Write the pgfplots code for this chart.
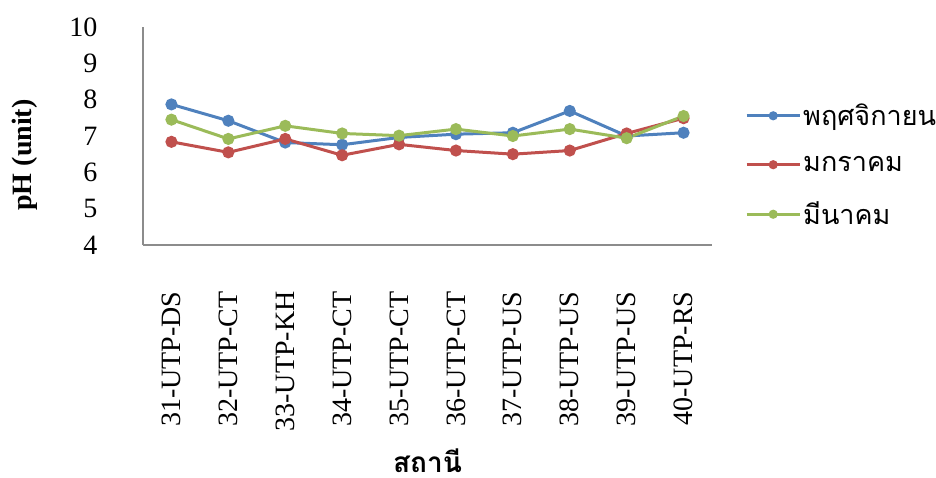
\documentclass[border=0pt]{standalone}
\usepackage{pgfplots}
\pgfplotsset{compat=1.18}
\usepackage{fontspec}
\setmainfont{Liberation Serif}
\newfontfamily\thaifont[Script=Thai]{Loma}
\definecolor{sBlue}{HTML}{4F81BD}
\definecolor{sRed}{HTML}{C0504D}
\definecolor{sGreen}{HTML}{9BBB59}
\definecolor{axGray}{HTML}{8C8C8C}

\begin{document}
\begin{tikzpicture}[x=1pt,y=1pt]
\useasboundingbox (-143,-232) rectangle (793,245);
\begin{axis}[
  at={(0,0)}, anchor=south west,
  scale only axis, width=569pt, height=218pt,
  xmin=-0.5, xmax=9.5, ymin=4, ymax=10,
  axis lines*=left,
  axis line style={axGray, line width=1.5pt},
  xtick={0,...,9},
  xticklabels={31-UTP-DS,32-UTP-CT,33-UTP-KH,34-UTP-CT,35-UTP-CT,36-UTP-CT,37-UTP-US,38-UTP-US,39-UTP-US,40-UTP-RS},
  ytick={4,...,10},
  major tick length=0pt,
  /pgf/number format/assume math mode=true,
  tick label style={font=\fontsize{28}{30}\selectfont},
  x tick label style={rotate=90, anchor=east, xshift=-43pt},
  y tick label style={anchor=east, xshift=-42pt},
  xlabel={\thaifont\bfseries\fontsize{28}{30}\selectfont สถานี},
  ylabel={\bfseries\fontsize{28}{30}\selectfont pH (unit)},
  every axis x label/.style={at={(axis description cs:0.5,0)}, yshift=-227pt, anchor=base, inner sep=0pt, text depth=0pt},
  every axis y label/.style={at={(axis description cs:0,0.5)}, xshift=-118pt, yshift=-19pt, rotate=90, anchor=center},
  clip=false,
  every axis plot/.append style={line width=3pt, mark=*, mark size=4.5pt},
  legend style={draw=none, fill=none, at={(axis description cs:1,1)}, anchor=north west,
    xshift=30pt, yshift=-73pt, row sep=25pt,
    font=\thaifont\fontsize{27}{29}\selectfont, cells={anchor=west}},
  legend image code/.code={\draw[#1, mark=none] (0pt,0pt) -- (53pt,0pt);
    \draw[#1, mark size=3pt] plot coordinates {(26.5pt,0pt)};},
]
\addplot[sBlue, mark options={fill=sBlue, draw=sBlue}] coordinates {
  (0,7.87) (1,7.42) (2,6.82) (3,6.76) (4,6.96) (5,7.05) (6,7.09) (7,7.69) (8,7.00) (9,7.09)};
\addlegendentry{พฤศจิกายน}
\addplot[sRed, mark options={fill=sRed, draw=sRed}] coordinates {
  (0,6.84) (1,6.55) (2,6.92) (3,6.47) (4,6.77) (5,6.60) (6,6.50) (7,6.60) (8,7.07) (9,7.49)};
\addlegendentry{มกราคม}
\addplot[sGreen, mark options={fill=sGreen, draw=sGreen}] coordinates {
  (0,7.45) (1,6.92) (2,7.28) (3,7.07) (4,7.01) (5,7.19) (6,7.00) (7,7.19) (8,6.94) (9,7.55)};
\addlegendentry{มีนาคม}
\end{axis}
\end{tikzpicture}
\end{document}
